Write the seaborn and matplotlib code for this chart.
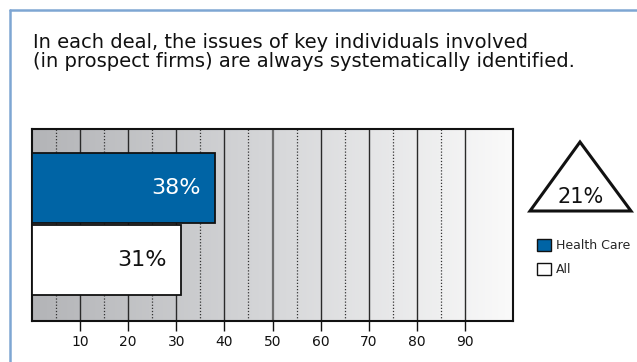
import numpy as np
import pandas as pd
import seaborn as sns
import matplotlib
matplotlib.use("Agg")
import matplotlib.pyplot as plt
from matplotlib.colors import LinearSegmentedColormap
from matplotlib.patches import Patch, Polygon
from matplotlib.lines import Line2D

# Survey results
categories = ["Health Care", "All"]
values = [38, 31]
value_labels = ["38%", "31%"]
difference_label = "21%"
tick_values = [10, 20, 30, 40, 50, 60, 70, 80, 90]
title = ("In each deal, the issues of key individuals involved\n"
         "(in prospect firms) are always systematically identified.")

BLUE = "#0064a5"
W, H = 637, 362

sns.set_theme(style="white")
plt.rcParams["font.family"] = ["DejaVu Sans"]

fig = plt.figure(figsize=(W / 100, H / 100), dpi=100)
fig.patch.set_facecolor("white")


def fx(px):
    return px / W


def fy(py):
    return 1 - py / H


ax = fig.add_axes([fx(32), fy(321), fx(513) - fx(32), fy(129) - fy(321)])

df = pd.DataFrame({"group": categories, "value": values})
sns.barplot(data=df, x="value", y="group", hue="group",
            palette=[BLUE, "white"], saturation=1, edgecolor="#111111",
            linewidth=1.3, width=0.97, legend=False, ax=ax)
for p in ax.patches:
    p.set_zorder(3)

ylim = (1.85, -0.82)

# shaded background running from grey to near white
grad = LinearSegmentedColormap.from_list("bg", ["#b3b4b7", "#d6d7d9", "#fafafa"])
ax.imshow(np.linspace(0, 1, 256)[None, :], cmap=grad, aspect="auto",
          extent=[0, 100, ylim[0], ylim[1]], zorder=0, interpolation="bilinear")

for t in tick_values:
    ax.axvline(t, color="#2a2a2a" if t != 50 else "#6e6e6e",
               lw=1.0 if t != 50 else 1.6, zorder=1)
for t in range(5, 90, 10):
    ax.axvline(t, color="#333333", lw=0.9, ls=(0, (1, 1.5)), zorder=1)

ax.set_xlim(0, 100)
ax.set_ylim(*ylim)

for i, (v, lab) in enumerate(zip(values, value_labels)):
    ax.text(v - 2.9, i, lab, ha="right", va="center", fontsize=16,
            color="white" if i == 0 else "#111111", zorder=4)

ax.set_xticks(tick_values)
ax.set_xticklabels([str(t) for t in tick_values], fontsize=10, color="#111111")
ax.set_yticks([])
ax.set_xlabel("")
ax.set_ylabel("")
ax.tick_params(axis="x", length=7, width=1, color="#111111", pad=3, bottom=True)
for s in ax.spines.values():
    s.set_visible(True)
    s.set_color("#111111")
    s.set_linewidth(1.5)

# title
fig.text(fx(33), fy(33), title, ha="left", va="top", fontsize=14,
         color="#111111", linespacing=1.02)

# difference triangle
tri = Polygon([(fx(530), fy(211)), (fx(580), fy(142)), (fx(631), fy(211))],
              closed=True, transform=fig.transFigure, facecolor="white",
              edgecolor="#111111", lw=2.2, joinstyle="miter")
fig.add_artist(tri)
fig.text(fx(581), fy(197), difference_label, ha="center", va="center",
         fontsize=15, color="#111111")

# legend
handles = [Patch(facecolor=BLUE, edgecolor="#111111", lw=1, label=categories[0]),
           Patch(facecolor="white", edgecolor="#111111", lw=1, label=categories[1])]
fig.legend(handles=handles, loc="upper left", bbox_to_anchor=(fx(528), fy(230)),
           frameon=False, fontsize=9, handlelength=1.15, handleheight=1.15,
           handletextpad=0.35, labelspacing=0.85, borderpad=0.2)

# frame lines along the left and top edges
fig.add_artist(Line2D([fx(10), fx(10)], [0, fy(10)], transform=fig.transFigure,
                      color="#7ea6d3", lw=1.8))
fig.add_artist(Line2D([fx(10), 1], [fy(10), fy(10)], transform=fig.transFigure,
                      color="#7ea6d3", lw=1.8))

fig.savefig("out.png", dpi=100, facecolor="white")
